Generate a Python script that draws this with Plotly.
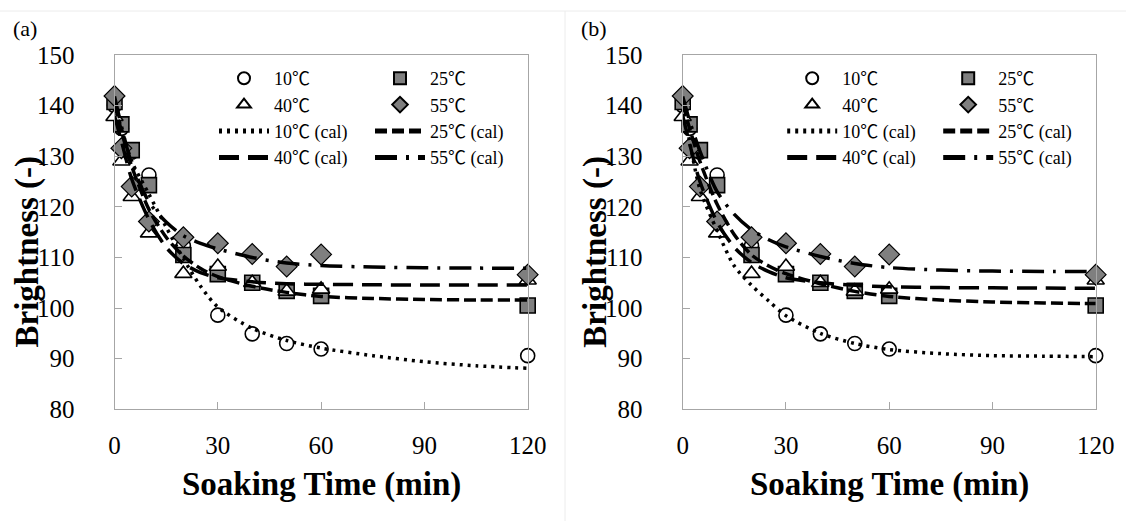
import plotly.graph_objects as go

# Measured brightness vs soaking time
time_min = [0, 2, 5, 10, 20, 30, 40, 50, 60, 120]
b10 = [140.0, 135.5, 130.8, 126.3, 112.3, 98.6, 94.9, 93.0, 91.9, 90.6]
b25 = [140.7, 136.3, 131.2, 124.3, 110.5, 106.7, 105.0, 103.4, 102.4, 100.5]
b40 = [137.8, 129.0, 122.0, 114.8, 106.8, 108.2, 105.0, 103.3, 103.7, 105.5]
b55 = [141.9, 131.6, 124.0, 117.1, 114.0, 112.8, 110.7, 108.2, 110.6, 106.6]

# Calculated curves
time_cal = [0, 2, 5, 10, 15, 20, 25, 30, 40, 50, 60, 75, 90, 105, 120]
cal10_a = [140, 135.5, 129, 122.5, 116, 109.8, 104.3, 100.2, 96.0, 93.6, 92.1, 90.6, 89.4, 88.6, 88.1]
cal25_a = [140.5, 135, 128, 119.5, 114, 110.3, 107.8, 106.2, 104.3, 103.1, 102.3, 101.9, 101.7, 101.6, 101.6]
cal40_a = [138, 133, 125.5, 117.5, 112, 108.8, 107, 106, 105.2, 104.8, 104.7, 104.6, 104.55, 104.55, 104.55]
cal55_a = [141.8, 136, 128.5, 121, 117, 114.3, 112.8, 111.7, 110, 108.9, 108.4, 108.1, 107.95, 107.9, 107.85]

cal10_b = [140, 133, 123.5, 115.3, 108.3, 104.5, 101.4, 98.5, 95.0, 93.0, 91.8, 91.0, 90.6, 90.5, 90.4]
cal25_b = [140.5, 135.5, 129, 120.5, 114.5, 110.5, 108.3, 106.8, 104.8, 103.3, 102.3, 101.6, 101.2, 101.0, 100.9]
cal40_b = [138, 132.5, 125, 117, 112, 109, 107.2, 106, 105, 104.5, 104.2, 104.05, 104, 103.95, 103.9]
cal55_b = [141.8, 137, 131, 123, 118.5, 115.5, 113.5, 112.1, 110.2, 108.8, 108, 107.5, 107.3, 107.25, 107.2]

x_ticks = [0, 30, 60, 90, 120]
y_ticks = [80, 90, 100, 110, 120, 130, 140, 150]

W, H = 1126, 521
SERIF = "Liberation Serif"
LEGEND_FONT = "Liberation Serif, Noto Sans CJK JP"
GREY = "#7f7f7f"

marker_specs = [
    ("10", b10, dict(symbol="circle", size=14, color="white", line=dict(color="black", width=1.6))),
    ("25", b25, dict(symbol="square", size=15, color=GREY, line=dict(color="black", width=1.6))),
    ("40", b40, dict(symbol="triangle-up", size=15, color="white", line=dict(color="black", width=1.6))),
    ("55", b55, dict(symbol="diamond", size=16, color=GREY, line=dict(color="black", width=1.2))),
]

line_dash = {
    "10": "3px,5px",
    "25": "12px,5px",
    "40": "20px,9px",
    "55": "22px,9px,3px,9px",
}

# legend column per temperature: 10/40 left, 25/55 right
column_of = {"10": 0, "40": 0, "25": 1, "55": 1}

panels = [
    ("x", "y", ["legend", "legend2"], [cal10_a, cal25_a, cal40_a, cal55_a]),
    ("x2", "y2", ["legend3", "legend4"], [cal10_b, cal25_b, cal40_b, cal55_b]),
]

fig = go.Figure()
for xa, ya, legs, cals in panels:
    for key, vals, mk in marker_specs:
        fig.add_trace(go.Scatter(
            x=time_min, y=vals, mode="markers", name=f"{key}℃", marker=mk,
            xaxis=xa, yaxis=ya, legend=legs[column_of[key]], cliponaxis=False,
        ))
    for key, vals in zip(["10", "25", "40", "55"], cals):
        fig.add_trace(go.Scatter(
            x=time_cal, y=vals, mode="lines", name=f"{key}℃ (cal)",
            line=dict(color="black", width=3.5, dash=line_dash[key], shape="spline", smoothing=0.8),
            xaxis=xa, yaxis=ya, legend=legs[column_of[key]], cliponaxis=False,
        ))

# Plot-area positions in pixels
y_top, y_bot = 55, 409.3
plots = {"a": (114.5, 527.7), "b": (682.7, 1095.7)}

ydom = [1 - y_bot / H, 1 - y_top / H]

axis_common = dict(
    showgrid=False, zeroline=False, showline=True, mirror=True, automargin=False,
    linecolor="#a6a6a6", linewidth=1.2, ticks="inside", ticklen=7,
    tickcolor="#a6a6a6", tickfont=dict(family=SERIF, size=25, color="black"),
)

layout_axes = {}
for i, (tag, (l, r)) in enumerate(plots.items()):
    sfx = "" if i == 0 else str(i + 1)
    layout_axes["xaxis" + sfx] = dict(
        axis_common, domain=[l / W, r / W], range=[0, 120], tickvals=x_ticks,
        anchor="y" + sfx, ticklabelstandoff=14,
    )
    layout_axes["yaxis" + sfx] = dict(
        axis_common, domain=ydom, range=[80, 150], tickvals=y_ticks,
        anchor="x" + sfx, ticklabelstandoff=34,
    )

legend_common = dict(
    orientation="v", xanchor="left", yanchor="top",
    font=dict(family=LEGEND_FONT, size=18, color="black"),
    bgcolor="rgba(0,0,0,0)", itemsizing="constant", tracegroupgap=0,
    borderwidth=0, itemwidth=50,
)

legend_y = 1 - 60 / H
col_left = [214, 370]
legends = {}
names = ["legend", "legend2", "legend3", "legend4"]
for p, (tag, (l, r)) in enumerate(plots.items()):
    for c in range(2):
        legends[names[2 * p + c]] = dict(
            legend_common, x=(col_left[c] + (l - 114.5)) / W, y=legend_y,
        )

fig.update_layout(
    width=W, height=H, margin=dict(l=0, r=0, t=0, b=0, pad=0, autoexpand=False),
    paper_bgcolor="white", plot_bgcolor="white", showlegend=True,
    **legends, **layout_axes,
)

annotations = []
for tag, (l, r) in plots.items():
    annotations.append(dict(
        text=f"({tag})", x=(l - 104) / W, y=1 - 28 / H, xref="paper", yref="paper",
        showarrow=False, xanchor="left", yanchor="middle",
        font=dict(family=SERIF, size=22, color="black"),
    ))
    annotations.append(dict(
        text="<b>Soaking Time (min)</b>", x=(l + r) / 2 / W, y=1 - 484 / H,
        xref="paper", yref="paper", showarrow=False, xanchor="center", yanchor="middle",
        font=dict(family=SERIF, size=33, color="black"),
    ))
    annotations.append(dict(
        text="<b>Brightness (-)</b>", x=(l - 88) / W, y=1 - 252 / H,
        xref="paper", yref="paper", showarrow=False, xanchor="center", yanchor="middle",
        textangle=-90, font=dict(family=SERIF, size=33, color="black"),
    ))
fig.update_layout(annotations=annotations)

# light frame lines separating the two panels
fig.add_shape(type="line", xref="paper", yref="paper", x0=0, x1=1, y0=1 - 11 / H, y1=1 - 11 / H,
              line=dict(color="#ececec", width=1))
fig.add_shape(type="line", xref="paper", yref="paper", x0=565 / W, x1=565 / W, y0=0, y1=1 - 11 / H,
              line=dict(color="#ececec", width=1))

fig.write_html("out.html")
